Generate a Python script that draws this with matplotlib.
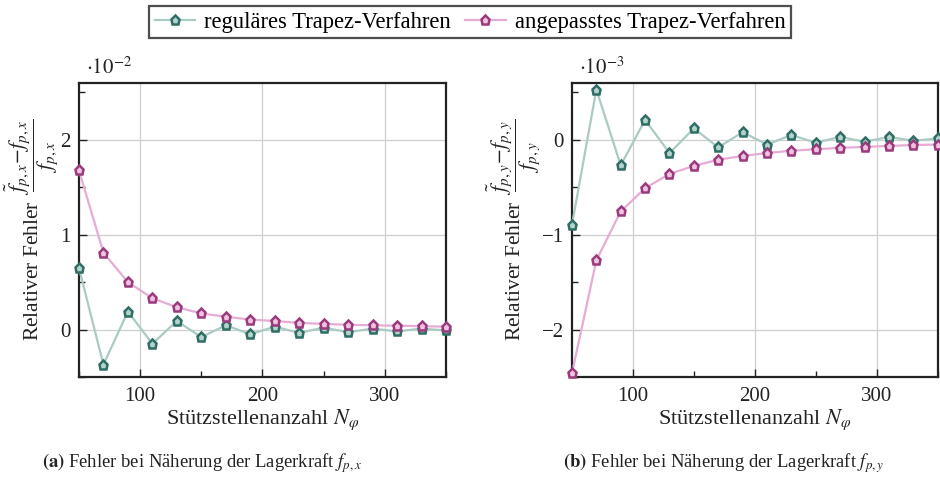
import matplotlib
matplotlib.use("Agg")
import matplotlib.pyplot as plt
from matplotlib.ticker import MultipleLocator

plt.rcParams['font.family'] = ['Liberation Serif', 'DejaVu Serif']
plt.rcParams['mathtext.fontset'] = 'stix'

N = [50, 70, 90, 110, 130, 150, 170, 190, 210, 230, 250, 270, 290, 310, 330, 350]

# left plot (units 1e-2)
x_reg = [0.65, -0.37, 0.19, -0.15, 0.09, -0.08, 0.045, -0.05, 0.03, -0.035, 0.02, -0.028, 0.01, -0.02, 0.01, -0.01]
x_ang = [1.68, 0.81, 0.50, 0.33, 0.235, 0.17, 0.135, 0.105, 0.09, 0.07, 0.06, 0.05, 0.045, 0.04, 0.035, 0.03]

# right plot (units 1e-3)
y_reg = [-0.895, 0.53, -0.27, 0.21, -0.14, 0.12, -0.08, 0.08, -0.05, 0.05, -0.03, 0.03, -0.02, 0.03, -0.01, 0.015]
y_ang = [-2.46, -1.27, -0.755, -0.51, -0.36, -0.275, -0.21, -0.17, -0.14, -0.115, -0.10, -0.085, -0.075, -0.065, -0.055, -0.05]

labels = ["reguläres Trapez-Verfahren", "angepasstes Trapez-Verfahren"]

g_line, g_edge, g_face = '#a9cbc4', '#2f6e64', '#b3d3cc'
p_line, p_edge, p_face = '#e6acd4', '#9a3a7e', '#efc2e0'
txt = '#222222'

fig = plt.figure(figsize=(9.4, 4.79), dpi=100)
ax1 = fig.add_axes([0.084, 0.213, 0.3905, 0.614])
ax2 = fig.add_axes([0.6085, 0.213, 0.389, 0.614])

def style(ax, ylim, scale, yname):
    ax.set_xlim(50, 350)
    ax.set_ylim(*ylim)
    ax.xaxis.set_major_locator(MultipleLocator(100))
    ax.xaxis.set_minor_locator(MultipleLocator(50))
    ax.yaxis.set_major_locator(MultipleLocator(1))
    ax.yaxis.set_minor_locator(MultipleLocator(0.5))
    ax.grid(True, which='major', color='#cfcfcf', linewidth=0.9)
    ax.set_axisbelow(True)
    ax.tick_params(which='both', direction='in', top=False, right=False,
                   labelsize=15, colors=txt, width=1.0)
    ax.tick_params(axis='x', which='major', pad=7)
    ax.tick_params(axis='y', which='major', pad=6)
    ax.tick_params(which='major', length=6)
    ax.tick_params(which='minor', length=4)
    for s in ax.spines.values():
        s.set_linewidth(1.6)
        s.set_color(txt)
    ax.set_xlabel(r"Stützstellenanzahl $N_\varphi$", fontsize=16, color=txt, labelpad=1)
    ax.set_ylabel(r"Relativer Fehler $\ \dfrac{\tilde{f}_{p,%s}\!-\!f_{p,%s}}{f_{p,%s}}$" % (yname, yname, yname),
                  fontsize=15.5, color=txt, labelpad=0)
    ax.text(0.02, 1.015, r"$\cdot 10^{%d}$" % scale, transform=ax.transAxes,
            fontsize=15, color=txt, ha='left', va='bottom')

def plot(ax, a, b):
    ax.plot(N, a, color=g_line, lw=1.6, marker='p', ms=6.5, mec=g_edge, mfc=g_face,
            mew=1.8, label=labels[0], clip_on=False, zorder=3)
    ax.plot(N, b, color=p_line, lw=1.6, marker='p', ms=6.5, mec=p_edge, mfc=p_face,
            mew=1.8, label=labels[1], clip_on=False, zorder=3)

plot(ax1, x_reg, x_ang)
plot(ax2, y_reg, y_ang)
style(ax1, (-0.5, 2.6), -2, 'x')
style(ax2, (-2.5, 0.6), -3, 'y')

h, l = ax1.get_legend_handles_labels()
leg = fig.legend(h, l, loc='upper center', bbox_to_anchor=(0.5, 1.011), ncol=2,
                 fontsize=16.3, frameon=True, fancybox=False, edgecolor=txt,
                 handlelength=1.8, columnspacing=0.6, handletextpad=0.4,
                 borderpad=0.25)
leg.get_frame().set_linewidth(1.6)

fig.text(0.2154, 0.034, r"$\mathbf{(a)}$ Fehler bei Näherung der Lagerkraft $f_{p,x}$",
         ha='center', va='center', fontsize=13.4, color=txt)
fig.text(0.77, 0.034, r"$\mathbf{(b)}$ Fehler bei Näherung der Lagerkraft $f_{p,y}$",
         ha='center', va='center', fontsize=13.4, color=txt)

fig.savefig("out.png", dpi=100)
